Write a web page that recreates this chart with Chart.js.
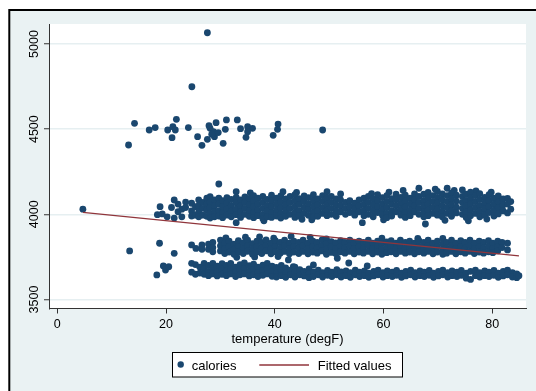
<!DOCTYPE html>
<html>
<head>
<meta charset="utf-8">
<script src="https://cdn.jsdelivr.net/npm/chart.js@4.4.1/dist/chart.umd.min.js"></script>
<style>
  html, body { margin: 0; padding: 0; background: #fff; }
  canvas { display: block; }
</style>
</head>
<body>
<canvas id="chart" width="536" height="391"></canvas>
<script>
const FONT = '"Liberation Sans", Arial, Helvetica, sans-serif';
const NAVY = '#1a476f';
const MAROON = '#90353b';

// axis ticks
const xTicks = [0, 20, 40, 60, 80];
const yTicks = [3500, 4000, 4500, 5000];

// fitted line end points
const fitTemps = [4.7, 84.9];
const fitCalories = [4011, 3756];

// isolated points [temp, calories]
const loosePoints = [
  [4.7, 4030], [13.3, 3785], [18.3, 3644], [19.5, 3697], [19.9, 3673], [20.5, 3692],
  [27.6, 5066], [24.75, 4749], [14.2, 4534], [13.1, 4407], [16.9, 4495], [18.0, 4509],
  [20.3, 4495], [21.25, 4514], [21.9, 4558], [21.7, 4495], [21.1, 4450], [24.1, 4509],
  [25.8, 4456], [26.6, 4405], [27.6, 4440], [28.1, 4505], [28.7, 4485], [29.2, 4538],
  [28.9, 4456], [29.6, 4480], [30.5, 4417], [30.9, 4499], [31.1, 4554], [33.1, 4554],
  [33.7, 4503], [35.0, 4514], [35.9, 4505], [34.7, 4452], [35.0, 4485], [40.6, 4530],
  [40.5, 4499], [39.7, 4464], [48.8, 4495], [28.4, 4470], [27.9, 4520],
  [42.5, 3732], [43.4, 3693], [47.1, 3703], [51.5, 3742], [53.6, 3714], [57.0, 3697],
  // ragged edges of the bands
  [35.5, 4125], [44.0, 4128], [57.8, 4122], [61.0, 4130], [63.6, 4140], [69.5, 4148],
  [73.0, 4140], [77.0, 4138], [79.8, 4130], [38.0, 3962], [46.8, 3968], [60.0, 3968],
  [71.3, 3965], [75.6, 3962], [79.0, 3972],
  [31.0, 3862], [34.6, 3866], [37.2, 3868], [39.8, 3860], [43.0, 3870],
  [33.0, 3748], [36.3, 3750], [40.6, 3752]
];

// upper band: [temp, calories...]
const upperBand = [
  [18.4, 3998], [18.9, 4045], [19.3, 4002], [20.2, 3985], [21.0, 4040], [21.5, 4084, 3978],
  [22.2, 4060, 4015], [22.9, 4030, 3985], [23.6, 4072, 4040], [24.7, 4065, 4020, 3990],
  [25.4, 4045, 3995], [26.0, 4084, 4050, 4015, 3985], [26.8, 4070, 4035, 3995],
  [27.5, 4095, 4060, 4025, 3988], [28.1, 4104, 4072, 4040, 4005, 3978],
  [28.9, 4085, 4050, 4015, 3985], [29.7, 4178, 4095, 4060, 4022, 3990],
  [30.4, 4080, 4045, 4008, 3980], [31.2, 4098, 4065, 4030, 3995],
  [32.0, 4088, 4052, 4018, 3985], [32.9, 4133, 4100, 4068, 4030, 3998, 3951],
  [33.7, 4085, 4048, 4012, 3982], [34.5, 4102, 4070, 4035, 4000],
  [35.3, 4090, 4055, 4020, 3988], [36.1, 4110, 4078, 4042, 4008, 3980],
  [36.9, 4095, 4060, 4025, 3992], [37.8, 4105, 4070, 4035, 4000, 3975],
  [38.6, 4088, 4052, 4018, 3985], [39.4, 4112, 4078, 4045, 4010, 3982],
  [40.3, 4095, 4060, 4025, 3990], [41.1, 4108, 4072, 4038, 4002, 3978], [41.5, 4133],
  [42.0, 4090, 4055, 4020, 3988], [42.8, 4105, 4070, 4035, 4000],
  [43.7, 4115, 4080, 4045, 4010, 3982], [44.5, 4092, 4058, 4022, 3990], [45.0, 3971],
  [45.4, 4108, 4075, 4040, 4005], [46.2, 4098, 4062, 4028, 3994],
  [47.1, 4115, 4080, 4045, 4010, 3985], [47.9, 4090, 4055, 4020, 3988],
  [48.8, 4110, 4076, 4040, 4005], [49.6, 4133, 4095, 4060, 4025, 3992],
  [50.4, 4105, 4070, 4035, 4000], [51.3, 4090, 4055, 4020, 3988],
  [52.1, 4120, 4085, 4050, 4015], [53.0, 4070, 4035, 4000], [53.8, 4080, 4045, 4010],
  [54.7, 4065, 4030, 3995], [55.5, 4085, 4050, 4015], [56.1, 3951],
  [56.4, 4095, 4060, 4025, 3992], [57.2, 4105, 4070, 4035, 4000],
  [58.1, 4090, 4055, 4020, 3985], [58.9, 4115, 4080, 4045, 4010],
  [59.8, 4098, 4062, 4028, 3995], [60.6, 4110, 4075, 4040, 4005, 3980],
  [61.5, 4092, 4058, 4022, 3990], [62.3, 4118, 4085, 4050, 4015],
  [63.2, 4100, 4065, 4030, 3995], [64.0, 4112, 4078, 4042, 4008, 3982],
  [64.9, 4095, 4060, 4025, 3992], [65.7, 4120, 4085, 4050, 4015],
  [66.5, 4153, 4105, 4070, 4035, 4000], [67.4, 4118, 4082, 4048, 4012, 3985], [67.7, 3943],
  [68.2, 4128, 4095, 4060, 4025, 3992], [69.1, 4110, 4075, 4040, 4005],
  [69.9, 4135, 4100, 4065, 4030, 3995], [70.8, 4120, 4085, 4050, 4015, 3985],
  [71.7, 4153, 4110, 4075, 4040, 4005], [72.5, 4125, 4090, 4055, 4020, 3988],
  [73.4, 4112, 4078, 4042, 4008], [74.5, 4143, 4105, 4070, 4035, 4000],
  [75.2, 4118, 4082, 4048, 4012, 3982], [76.0, 4130, 4095, 4060, 4025, 3992],
  [76.9, 4110, 4075, 4040, 4005], [77.7, 4122, 4088, 4052, 4018, 3985],
  [78.6, 4100, 4065, 4030, 3995], [79.4, 4115, 4080, 4045, 4010],
  [80.3, 4095, 4060, 4025, 3990], [81.1, 4108, 4072, 4038, 4002],
  [82.0, 4090, 4055, 4020], [82.8, 4094, 4060, 4008], [83.4, 4075, 4030]
];

// middle band
const middleBand = [
  [18.8, 3830], [21.5, 3771], [24.7, 3820], [25.5, 3800], [26.6, 3795, 3820],
  [27.8, 3795, 3825], [28.6, 3835, 3805, 3780], [30.0, 3849, 3815, 3785],
  [30.8, 3830, 3798, 3770], [31.6, 3842, 3810, 3778], [32.5, 3825, 3795, 3765],
  [33.3, 3845, 3812, 3780], [34.2, 3832, 3800, 3770], [35.0, 3848, 3815, 3783],
  [35.9, 3828, 3796, 3765], [36.7, 3842, 3810, 3778], [37.6, 3835, 3802, 3770],
  [38.4, 3850, 3818, 3785], [39.3, 3830, 3798, 3768], [40.1, 3845, 3812, 3780],
  [41.0, 3835, 3802, 3772], [41.8, 3848, 3815, 3782], [42.7, 3830, 3798, 3768],
  [43.5, 3842, 3810, 3778], [44.4, 3835, 3802, 3770], [45.2, 3848, 3815, 3782],
  [46.1, 3830, 3798, 3768], [46.5, 3865], [47.0, 3842, 3810, 3778],
  [47.8, 3835, 3802, 3772], [48.7, 3850, 3818, 3785], [49.5, 3855, 3828, 3796, 3765],
  [50.4, 3840, 3808, 3776], [51.2, 3832, 3800, 3770], [52.1, 3845, 3812, 3780],
  [52.9, 3835, 3802, 3772], [53.8, 3848, 3815, 3782], [54.6, 3830, 3798, 3768],
  [55.5, 3842, 3810, 3778], [56.3, 3835, 3802, 3772], [57.2, 3848, 3815, 3782],
  [58.0, 3830, 3798, 3768], [58.9, 3842, 3810, 3778], [59.7, 3860, 3828, 3795, 3765],
  [60.6, 3838, 3805, 3775], [61.4, 3845, 3812, 3780], [62.3, 3830, 3798, 3768],
  [63.1, 3848, 3815, 3782], [64.0, 3835, 3802, 3772], [64.8, 3842, 3810, 3778],
  [65.7, 3830, 3798, 3768], [66.3, 3858], [66.5, 3845, 3812, 3780],
  [67.4, 3835, 3802, 3772], [68.2, 3848, 3815, 3782], [69.1, 3830, 3798, 3768],
  [69.9, 3842, 3810, 3778], [70.9, 3858, 3826, 3794, 3765], [71.6, 3835, 3802, 3772],
  [72.5, 3848, 3815, 3782], [73.3, 3830, 3798, 3768], [74.2, 3845, 3812, 3780],
  [75.0, 3835, 3802, 3772], [75.9, 3848, 3815, 3782], [76.7, 3830, 3798, 3770],
  [77.6, 3842, 3810, 3778], [78.4, 3835, 3802, 3772], [79.3, 3845, 3812, 3780],
  [80.1, 3830, 3800, 3775], [81.0, 3842, 3810, 3785], [81.8, 3835, 3805],
  [82.8, 3830, 3791]
];

// lower band
const lowerBand = [
  [24.7, 3712, 3660], [25.4, 3705, 3648], [26.2, 3690, 3655], [27.0, 3712, 3680, 3648],
  [27.8, 3700, 3665, 3640], [28.6, 3712, 3682, 3650], [29.4, 3695, 3662, 3638],
  [30.3, 3710, 3678, 3648], [31.1, 3700, 3668, 3640], [31.9, 3712, 3680, 3650],
  [32.8, 3690, 3660, 3635], [33.6, 3705, 3675, 3645], [34.4, 3715, 3682, 3650],
  [35.3, 3698, 3665, 3638], [36.1, 3708, 3676, 3645], [36.9, 3690, 3658, 3635],
  [37.8, 3702, 3670, 3642], [38.6, 3712, 3680, 3650], [39.5, 3695, 3662, 3636],
  [40.3, 3688, 3655, 3632], [41.2, 3700, 3668, 3640], [42.0, 3685, 3655, 3630],
  [42.9, 3672, 3645], [43.7, 3690, 3660, 3632], [44.6, 3675, 3645], [45.4, 3665, 3638],
  [46.3, 3680, 3650, 3628], [47.1, 3662, 3635], [48.0, 3672, 3645], [48.8, 3658, 3632],
  [49.7, 3670, 3642], [50.5, 3660, 3635], [51.4, 3675, 3645], [52.2, 3662, 3632],
  [53.1, 3668, 3640], [53.9, 3658, 3630], [54.8, 3672, 3645], [55.6, 3660, 3635],
  [56.5, 3668, 3640], [57.3, 3655, 3630], [58.2, 3665, 3638], [59.0, 3672, 3645],
  [59.9, 3658, 3632], [60.7, 3668, 3640], [61.6, 3660, 3635], [62.4, 3670, 3642],
  [63.3, 3655, 3630], [64.1, 3665, 3638], [65.0, 3672, 3645], [65.8, 3658, 3632],
  [66.7, 3668, 3640], [67.5, 3660, 3635], [68.4, 3670, 3642], [69.2, 3655, 3630],
  [70.1, 3665, 3638], [70.9, 3672, 3645], [71.8, 3658, 3632], [72.6, 3668, 3640],
  [73.5, 3660, 3635], [74.3, 3670, 3642], [75.2, 3655, 3625], [76.0, 3665, 3618],
  [76.9, 3672, 3640], [77.7, 3658, 3632], [78.6, 3668, 3640], [79.4, 3660, 3635],
  [80.3, 3670, 3642], [81.1, 3655, 3630], [82.0, 3665, 3638], [82.8, 3672, 3645],
  [83.7, 3658, 3632], [84.5, 3650, 3628], [84.9, 3640]
];

// turn [temp, cal, cal, ...] columns into chart points
function columnsToPoints(cols) {
  const pts = [];
  cols.forEach(col => {
    col.slice(1).forEach(cal => pts.push({ x: col[0], y: cal }));
  });
  return pts;
}

const calorieData = columnsToPoints(loosePoints)
  .concat(columnsToPoints(upperBand))
  .concat(columnsToPoints(middleBand))
  .concat(columnsToPoints(lowerBand));

const fitData = fitTemps.map((t, i) => ({ x: t, y: fitCalories[i] }));

// stata style frame, plot region, tick labels, title and legend
const stataFrame = {
  id: 'stataFrame',
  beforeDraw(chart) {
    const { ctx, chartArea, width, height } = chart;
    ctx.save();
    ctx.fillStyle = '#fff';
    ctx.fillRect(0, 0, width, height);
    ctx.fillStyle = '#eaf2f3';
    ctx.fillRect(9, 10, width, height);
    ctx.strokeStyle = '#000';
    ctx.lineWidth = 2;
    ctx.beginPath();
    ctx.moveTo(9.3, height);
    ctx.lineTo(9.3, 10);
    ctx.lineTo(width, 10);
    ctx.stroke();
    ctx.fillStyle = '#fff';
    ctx.fillRect(chartArea.left, chartArea.top, chartArea.right - chartArea.left, chartArea.bottom - chartArea.top);
    ctx.restore();
  },
  afterDraw(chart) {
    const { ctx, scales } = chart;
    ctx.save();
    ctx.fillStyle = '#000';
    ctx.font = '12.5px ' + FONT;
    ctx.textBaseline = 'alphabetic';

    // y labels, rotated
    yTicks.forEach(v => {
      const y = scales.y.getPixelForValue(v);
      ctx.save();
      ctx.translate(37.5, y);
      ctx.rotate(-Math.PI / 2);
      ctx.textAlign = 'center';
      ctx.fillText(String(v), 0, 0);
      ctx.restore();
    });

    // x labels
    ctx.textAlign = 'center';
    xTicks.forEach(v => {
      ctx.fillText(String(v), scales.x.getPixelForValue(v), 327.7);
    });

    // x title
    ctx.font = '13px ' + FONT;
    const cx = (chart.chartArea.left + chart.chartArea.right) / 2;
    ctx.fillText('temperature (degF)', cx, 343);

    // legend
    ctx.fillStyle = '#fff';
    ctx.fillRect(172.5, 352.5, 230, 24.5);
    ctx.strokeStyle = '#000';
    ctx.lineWidth = 1;
    ctx.strokeRect(172.5, 352.5, 230, 24.5);

    ctx.fillStyle = NAVY;
    ctx.beginPath();
    ctx.arc(180.7, 364.5, 3.2, 0, Math.PI * 2);
    ctx.fill();

    ctx.strokeStyle = MAROON;
    ctx.lineWidth = 1.3;
    ctx.beginPath();
    ctx.moveTo(259.3, 365);
    ctx.lineTo(309, 365);
    ctx.stroke();

    ctx.fillStyle = '#000';
    ctx.textAlign = 'left';
    ctx.fillText('calories', 191.7, 369.5);
    ctx.fillText('Fitted values', 317.7, 369.5);
    ctx.restore();
  }
};

new Chart(document.getElementById('chart').getContext('2d'), {
  type: 'scatter',
  data: {
    datasets: [
      {
        label: 'Fitted values',
        data: fitData,
        showLine: true,
        borderColor: MAROON,
        borderWidth: 1.3,
        pointRadius: 0,
        fill: false
      },
      {
        label: 'calories',
        data: calorieData,
        pointRadius: 3.4,
        pointBackgroundColor: NAVY,
        pointBorderWidth: 0,
        borderWidth: 0
      }
    ]
  },
  options: {
    responsive: false,
    animation: false,
    devicePixelRatio: 1,
    layout: { padding: { left: 0, top: 24, right: 10, bottom: 0 } },
    plugins: {
      legend: { display: false },
      tooltip: { enabled: false }
    },
    scales: {
      x: {
        type: 'linear',
        min: -1.53,
        max: 86.2,
        afterBuildTicks: scale => { scale.ticks = xTicks.map(v => ({ value: v })); },
        afterFit: scale => { scale.height = 82.5; },
        ticks: { display: false },
        border: { color: '#333', width: 1 },
        grid: { drawOnChartArea: false, drawTicks: true, tickLength: 5, tickColor: '#333', tickWidth: 1 }
      },
      y: {
        type: 'linear',
        min: 3447,
        max: 5117.4,
        afterBuildTicks: scale => { scale.ticks = yTicks.map(v => ({ value: v })); },
        afterFit: scale => { scale.width = 49; },
        ticks: { display: false },
        border: { color: '#333', width: 1 },
        grid: { color: '#e6eff1', lineWidth: 1.5, drawTicks: true, tickLength: 5, tickColor: '#333', tickWidth: 1 }
      }
    }
  },
  plugins: [stataFrame]
});
</script>
</body>
</html>
